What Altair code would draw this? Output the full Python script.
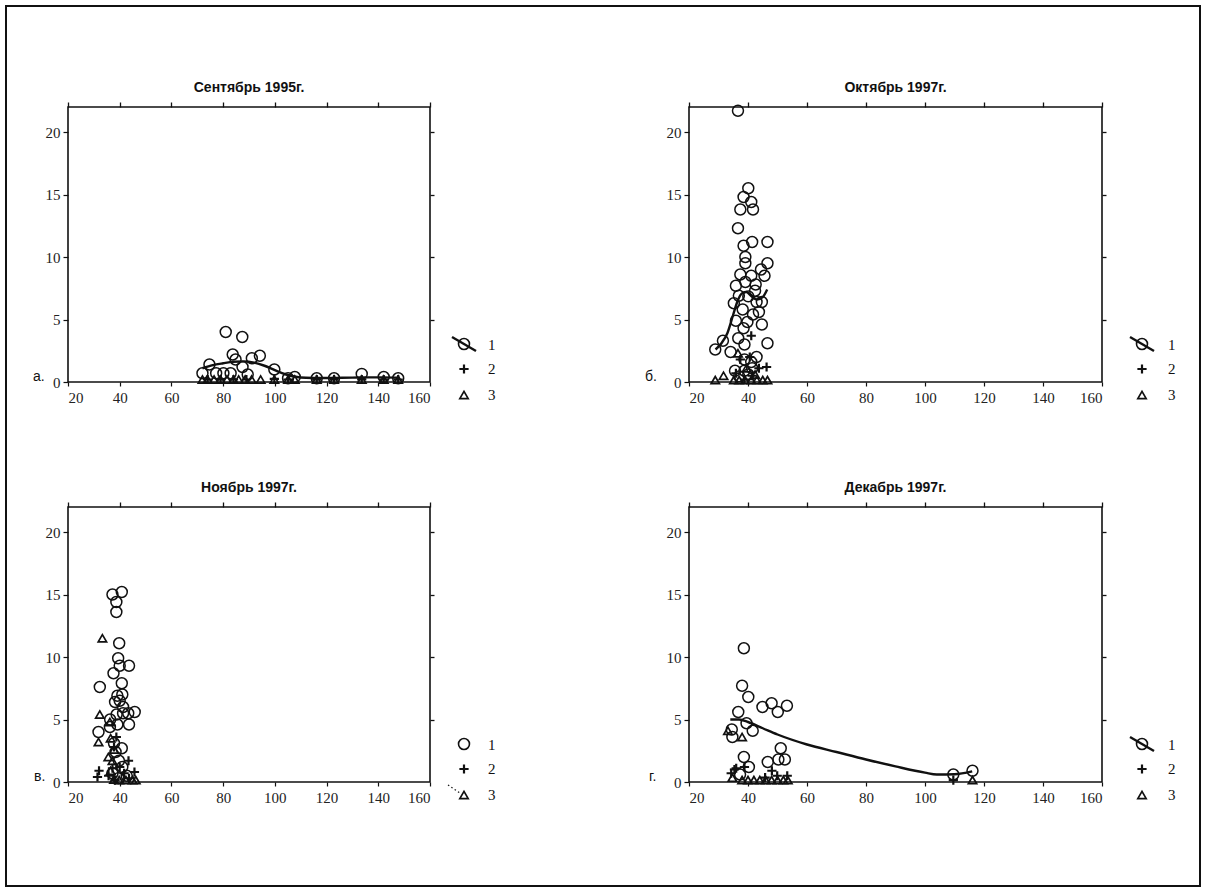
import altair as alt
import pandas as pd

X_TICKS = [20, 40, 60, 80, 100, 120, 140, 160]
Y_TICKS = [0, 5, 10, 15, 20]
Y_TICKS_RIGHT = [5, 10, 15, 20]
X_DOMAIN = [20, 160]
Y_DOMAIN = [0, 22]

TITLES = ["Сентябрь 1995г.", "Октябрь 1997г.", "Ноябрь 1997г.", "Декабрь 1997г."]
LETTERS = ["а.", "б.", "в.", "г."]
LEGEND_LABELS = ["1", "2", "3"]

# ---- Panel а (Sep 1995)
A_CIRC_X = [72.0, 74.7, 77.3, 80.1, 81.0, 82.9, 83.7, 84.8, 87.4, 87.5, 89.5, 91.1, 94.2,
            99.8, 105.1, 107.7, 116.2, 122.9, 133.6, 142.1, 147.7]
A_CIRC_Y = [0.7, 1.4, 0.7, 0.7, 4.0, 0.7, 2.2, 1.8, 3.6, 1.2, 0.6, 1.9, 2.1,
            1.0, 0.3, 0.4, 0.3, 0.3, 0.65, 0.4, 0.3]
A_PLUS_X = [74.0, 79.0, 84.0, 89.0, 99.8, 105.1, 116.2, 122.9, 133.6, 142.1, 147.7]
A_PLUS_Y = [0.2, 0.2, 0.2, 0.2, 0.25, 0.2, 0.2, 0.2, 0.2, 0.2, 0.2]
A_TRI_X = [72.0, 74.0, 76.5, 79.0, 81.5, 84.0, 86.0, 88.5, 91.0, 94.5, 99.8, 105.1, 107.7,
           116.2, 122.9, 133.6, 142.1, 147.7]
A_TRI_Y = [0.2, 0.2, 0.2, 0.2, 0.2, 0.2, 0.2, 0.2, 0.2, 0.2, 0.2, 0.2, 0.2,
           0.2, 0.2, 0.2, 0.2, 0.2]
A_LINE_X = [72, 76, 80, 84, 88, 92, 96, 100, 104, 108, 112, 118, 124, 130, 136, 142, 148]
A_LINE_Y = [1.1, 1.35, 1.5, 1.62, 1.65, 1.55, 1.3, 0.95, 0.62, 0.42, 0.34, 0.32, 0.33,
            0.35, 0.37, 0.37, 0.35]

# ---- Panel б (Oct 1997)
B_CIRC_X = [36.6, 40.1, 38.5, 41.1, 37.4, 41.7, 36.6, 41.4, 46.6, 38.5, 39.1, 39.1, 46.6,
            44.4, 37.4, 41.1, 45.6, 39.1, 42.6, 35.9, 42.4, 36.9, 40.1, 42.9, 44.7, 35.2,
            38.2, 41.7, 43.7, 35.9, 39.8, 44.7, 38.5, 36.7, 38.8, 46.6, 31.5, 28.9, 34.1,
            42.9, 38.8, 41.1, 35.6, 38.8, 41.4, 37.0, 40.1]
B_CIRC_Y = [21.7, 15.5, 14.8, 14.4, 13.8, 13.8, 12.3, 11.2, 11.2, 10.9, 10.0, 9.5, 9.5,
            9.0, 8.6, 8.5, 8.5, 8.0, 7.8, 7.7, 7.3, 6.9, 6.85, 6.4, 6.4, 6.3,
            5.8, 5.4, 5.6, 4.9, 4.8, 4.6, 4.3, 3.5, 3.0, 3.1, 3.3, 2.6, 2.4,
            2.0, 1.8, 1.6, 0.9, 0.9, 1.1, 0.45, 0.6]
B_PLUS_X = [41.1, 46.3, 43.7, 37.4, 40.6, 35.9, 41.4, 38.8]
B_PLUS_Y = [3.7, 1.2, 1.1, 1.8, 2.0, 0.7, 0.5, 0.2]
B_TRI_X = [28.9, 31.7, 35.2, 37.0, 39.0, 41.1, 43.0, 45.0, 46.6, 36.6, 39.5, 42.4]
B_TRI_Y = [0.15, 0.5, 0.15, 0.15, 0.15, 0.15, 0.15, 0.15, 0.15, 2.3, 1.1, 0.6]
B_LINE_X = [29, 31, 33, 35, 36.5, 38, 39.5, 41, 43, 45, 46.5]
B_LINE_Y = [2.6, 3.1, 3.9, 5.4, 6.5, 7.1, 7.2, 6.9, 6.6, 6.8, 7.4]

# ---- Panel в (Nov 1997)
C_CIRC_X = [37.2, 40.8, 38.7, 38.7, 39.8, 39.4, 40.0, 43.6, 37.6, 40.8, 32.3, 39.1, 41.0,
            38.2, 40.0, 41.3, 38.8, 41.3, 43.3, 45.8, 36.3, 39.1, 43.6, 31.8, 36.2, 40.8,
            37.8, 38.4, 39.7, 41.0, 37.2, 42.7, 39.5]
C_CIRC_Y = [15.0, 15.2, 14.4, 13.6, 11.1, 9.9, 9.3, 9.3, 8.7, 7.9, 7.6, 6.9, 7.0,
            6.4, 6.5, 6.0, 5.4, 5.5, 5.5, 5.6, 5.0, 4.6, 4.6, 4.0, 4.4, 2.7,
            3.1, 2.4, 1.7, 1.2, 0.7, 0.5, 0.3]
C_PLUS_X = [32.0, 31.4, 43.4, 45.7, 38.7, 37.8, 37.2, 40.0, 41.7, 35.7, 38.2, 43.6]
C_PLUS_Y = [0.9, 0.4, 1.7, 0.8, 3.6, 2.8, 1.1, 1.2, 0.7, 0.5, 0.15, 0.3]
C_TRI_X = [33.3, 32.3, 31.8, 36.2, 36.5, 35.6, 37.2, 37.8, 36.5, 37.8, 39.8, 42.4, 45.0, 46.2]
C_TRI_Y = [11.5, 5.4, 3.2, 4.8, 3.5, 2.0, 1.7, 2.6, 0.9, 0.2, 0.15, 0.15, 0.15, 0.15]

# ---- Panel г (Dec 1997)
D_CIRC_X = [38.6, 38.0, 40.1, 36.7, 44.9, 48.0, 50.1, 53.2, 39.5, 41.6, 34.5, 34.7, 38.6,
            40.3, 51.1, 52.5, 50.3, 46.7, 37.3, 109.6, 116.1]
D_CIRC_Y = [10.7, 7.7, 6.8, 5.6, 6.0, 6.3, 5.6, 6.1, 4.7, 4.1, 4.2, 3.6, 2.0,
            1.2, 2.7, 1.8, 1.8, 1.6, 0.6, 0.6, 0.9]
D_PLUS_X = [35.4, 34.3, 36.0, 38.8, 48.1, 49.9, 53.3, 45.8, 109.6]
D_PLUS_Y = [1.0, 0.7, 1.1, 1.2, 0.9, 0.5, 0.5, 0.35, 0.15]
D_TRI_X = [38.0, 33.2, 34.7, 38.0, 40.0, 42.0, 44.0, 46.0, 48.0, 50.0, 52.0, 53.5, 116.1]
D_TRI_Y = [3.6, 4.1, 0.35, 0.15, 0.15, 0.15, 0.15, 0.15, 0.15, 0.15, 0.15, 0.15, 0.15]
D_LINE_X = [34, 37, 40, 45, 50, 60, 70, 80, 90, 100, 104, 110, 116]
D_LINE_Y = [5.0, 5.0, 4.8, 4.3, 3.8, 3.0, 2.4, 1.8, 1.25, 0.75, 0.6, 0.62, 0.85]

INK = "#111111"
LABEL_INK = "#222222"
SERIF = "Liberation Serif"
SANS = "Liberation Sans"
H = 275
PLUS_PATH = "M-1,0L1,0M0,-1L0,1"
CIRC_SIZE, PLUS_SIZE, TRI_SIZE = 120, 85, 70

xs = alt.Scale(domain=X_DOMAIN, nice=False, zero=False)
ys = alt.Scale(domain=Y_DOMAIN, nice=False, zero=False)

bottom_axis = alt.Axis(orient="bottom", values=X_TICKS, title=None, domain=False, grid=False,
                       tickSize=4, tickColor=INK, tickWidth=1.2, labelFont=SERIF, labelFontSize=15,
                       labelColor=LABEL_INK, labelPadding=4, format="d")
left_axis = alt.Axis(orient="left", values=Y_TICKS, title=None, domain=False, grid=False,
                     tickSize=5, tickColor=INK, tickWidth=1.2, labelFont=SERIF, labelFontSize=15,
                     labelColor=LABEL_INK, labelPadding=3, format="d")
top_axis = alt.Axis(orient="top", values=X_TICKS, title=None, domain=False, grid=False,
                    labels=False, tickSize=5, tickColor=INK, tickWidth=1.3)
right_axis = alt.Axis(orient="right", values=Y_TICKS_RIGHT, title=None, domain=False, grid=False,
                      labels=False, tickSize=4, tickColor=INK, tickWidth=1.3)

ONE = pd.DataFrame({"k": [0]})


def pts(xv, yv):
    return pd.DataFrame({"x": xv, "y": yv})


def vrule(x1, y1, x2, y2, width=2.4, dash=None):
    kw = dict(strokeWidth=width, color=INK)
    if dash:
        kw["strokeDash"] = dash
    return alt.Chart(ONE).mark_rule(**kw).encode(
        x=alt.value(x1), y=alt.value(y1), x2=alt.value(x2), y2=alt.value(y2))


def vsym(x, y, shape, size, sw):
    return alt.Chart(ONE).mark_point(shape=shape, size=size, filled=False, color=INK,
                                     strokeWidth=sw, opacity=1).encode(
        x=alt.value(x), y=alt.value(y))


def vtext(x, y, t, font, size, align="left", weight="normal"):
    return alt.Chart(pd.DataFrame({"t": [t]})).mark_text(
        align=align, baseline="middle", font=font, fontSize=size, color=INK,
        fontWeight=weight).encode(x=alt.value(x), y=alt.value(y), text="t:N")


def panel(idx, width, circ, plus, tri, line, leg_dx, lab_dx, letter_dx,
          line_legend=True, dotted3=False, frame=False):
    layers = []
    if frame:
        layers.append(alt.Chart(ONE).mark_rect(fillOpacity=0, stroke=INK, strokeWidth=2).encode(
            x=alt.value(-62), x2=alt.value(1132), y=alt.value(-101), y2=alt.value(779)))
    # tick-only top/right axes
    layers.append(alt.Chart(pts(*circ)).mark_point(opacity=0).encode(
        x=alt.X("x:Q", scale=xs, axis=top_axis),
        y=alt.Y("y:Q", scale=ys, axis=right_axis)))
    if line is not None:
        layers.append(alt.Chart(pts(*line)).mark_line(
            interpolate="monotone", color=INK, strokeWidth=2.4).encode(
            x=alt.X("x:Q", scale=xs, axis=None), y=alt.Y("y:Q", scale=ys, axis=None)))
    layers.append(alt.Chart(pts(*tri)).mark_point(
        shape="triangle-up", size=TRI_SIZE, filled=False, color=INK, strokeWidth=1.7,
        opacity=1).encode(
        x=alt.X("x:Q", scale=xs, axis=None), y=alt.Y("y:Q", scale=ys, axis=None)))
    layers.append(alt.Chart(pts(*plus)).mark_point(
        shape=PLUS_PATH, size=PLUS_SIZE, filled=False, color=INK, strokeWidth=2.2,
        opacity=1).encode(
        x=alt.X("x:Q", scale=xs, axis=None), y=alt.Y("y:Q", scale=ys, axis=None)))
    layers.append(alt.Chart(pts(*circ)).mark_point(
        shape="circle", size=CIRC_SIZE, filled=False, color=INK, strokeWidth=1.5,
        opacity=1).encode(
        x=alt.X("x:Q", scale=xs, axis=bottom_axis), y=alt.Y("y:Q", scale=ys, axis=left_axis)))

    # title
    layers.append(vtext(width / 2, -19, TITLES[idx], SANS, 14, align="center", weight="bold"))

    # legend
    sx = width + leg_dx
    lx = width + lab_dx
    rows = [H - 37, H - 13, H + 13]
    if line_legend:
        layers.append(vrule(sx - 12, rows[0] - 8, sx + 12, rows[0] + 6))
    layers.append(vsym(sx, rows[0] - 1, "circle", CIRC_SIZE, 1.6))
    layers.append(vsym(sx, rows[1], PLUS_PATH, PLUS_SIZE, 2.2))
    if dotted3:
        layers.append(vrule(sx - 16, rows[2] - 10, sx - 4, rows[2] - 2, width=1.2, dash=[1.5, 2.5]))
    layers.append(vsym(sx, rows[2], "triangle-up", TRI_SIZE, 1.7))
    for r, lab in zip(rows, LEGEND_LABELS):
        layers.append(vtext(lx, r, lab, SERIF, 15))
    layers.append(vtext(letter_dx, H - 5, LETTERS[idx], SANS, 14))

    return alt.layer(*layers).resolve_axis(x="independent", y="independent").properties(
        width=width, height=H)


LW, RW = 362, 413
pa = panel(0, LW, (A_CIRC_X, A_CIRC_Y), (A_PLUS_X, A_PLUS_Y), (A_TRI_X, A_TRI_Y),
           (A_LINE_X, A_LINE_Y), 34, 58, -35, frame=True)
pb = panel(1, RW, (B_CIRC_X, B_CIRC_Y), (B_PLUS_X, B_PLUS_Y), (B_TRI_X, B_TRI_Y),
           (B_LINE_X, B_LINE_Y), 40, 66, -44)
pc = panel(2, LW, (C_CIRC_X, C_CIRC_Y), (C_PLUS_X, C_PLUS_Y), (C_TRI_X, C_TRI_Y),
           None, 34, 58, -34, line_legend=False, dotted3=True)
pd_ = panel(3, RW, (D_CIRC_X, D_CIRC_Y), (D_PLUS_X, D_PLUS_Y), (D_TRI_X, D_TRI_Y),
            (D_LINE_X, D_LINE_Y), 40, 66, -40)

chart = alt.concat(
    pa, pb, pc, pd_, columns=2,
    spacing=alt.RowColnumber(row=125, column=259),
    bounds="flush", align="each",
).properties(
    padding={"left": 4, "top": 4, "right": 2, "bottom": 4},
    background="white",
).configure_view(stroke=INK, strokeWidth=1.6)

chart.save("out.html", embed_options={"renderer": "svg", "actions": False})
